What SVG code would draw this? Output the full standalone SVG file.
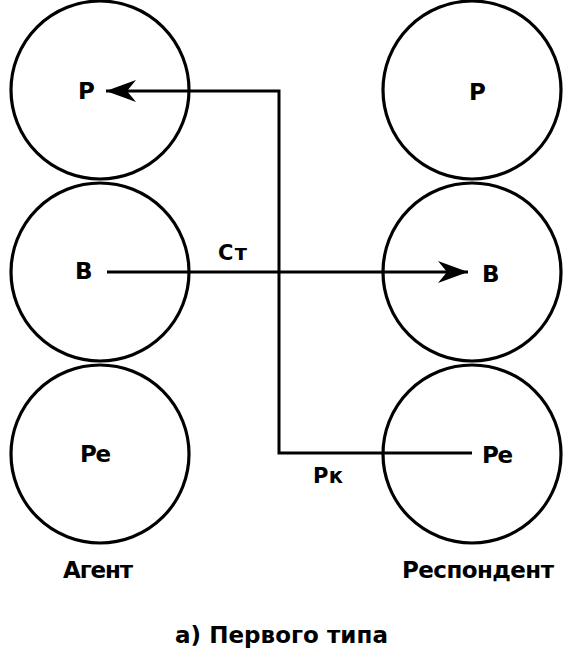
<svg xmlns="http://www.w3.org/2000/svg" width="571" height="666" viewBox="0 0 571 666">
<style>
.c{fill:none;stroke:#000;stroke-width:3.2}
.l{fill:none;stroke:#000;stroke-width:3;stroke-linejoin:miter}
text{font-family:"DejaVu Sans","Liberation Sans",Arial,sans-serif;font-weight:bold;font-size:23px;fill:#000}
.s{font-size:21px}
</style>
<defs>
<marker id="ah" markerUnits="userSpaceOnUse" markerWidth="40" markerHeight="30" viewBox="-32 -15 40 30" refX="0" refY="0" orient="auto">
<path d="M0,0 L-30,-11 L-21,0 L-30,11 Z" fill="#000"/>
</marker>
</defs>
<g id="agent-P"><circle class="c" cx="100" cy="90" r="89"/><text x="78" y="99">Р</text></g>
<g id="agent-B"><circle class="c" cx="100" cy="272" r="89"/><text x="75" y="279">В</text></g>
<g id="agent-Pe"><circle class="c" cx="100" cy="454" r="89"/><text x="80" y="462" textLength="31">Ре</text></g>
<g id="resp-P"><circle class="c" cx="472" cy="90" r="89"/><text x="469" y="100">Р</text></g>
<g id="resp-B"><circle class="c" cx="472" cy="272" r="89"/><text x="482" y="282">В</text></g>
<g id="resp-Pe"><circle class="c" cx="472" cy="454" r="89"/><text x="482" y="463" textLength="31">Ре</text></g>
<g id="connectors">
<path class="l" d="M472,453 H279 V91 H106" marker-end="url(#ah)"/>
<path class="l" d="M107,272 H468" marker-end="url(#ah)"/>
<text class="s" x="218" y="260" textLength="29">Ст</text>
<text class="s" x="313" y="483" textLength="30">Рк</text>
</g>
<g id="labels">
<text x="63" y="578" textLength="70">Агент</text>
<text x="402" y="578" textLength="152">Респондент</text>
<text x="175" y="643" textLength="213">а) Первого типа</text>
</g>
</svg>
